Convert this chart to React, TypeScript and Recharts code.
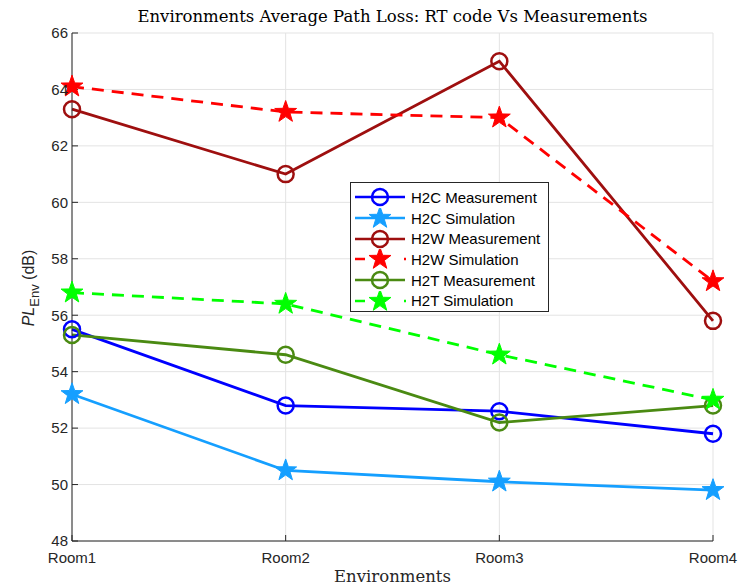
import { LineChart, Line, XAxis, YAxis, CartesianGrid } from 'recharts';

const rooms = ['Room1', 'Room2', 'Room3', 'Room4'];
const h2cMeasurement = [55.5, 52.8, 52.6, 51.8];
const h2cSimulation = [53.2, 50.5, 50.1, 49.8];
const h2wMeasurement = [63.3, 61.0, 65.0, 55.8];
const h2wSimulation = [64.1, 63.2, 63.0, 57.2];
const h2tMeasurement = [55.3, 54.6, 52.2, 52.8];
const h2tSimulation = [56.8, 56.4, 54.6, 53.0];
const yTicks = [48, 50, 52, 54, 56, 58, 60, 62, 64, 66];

const series = [
  { key: 'h2cM', name: 'H2C Measurement', values: h2cMeasurement, color: '#0000ff', marker: 'circle', dashed: false },
  { key: 'h2cS', name: 'H2C Simulation', values: h2cSimulation, color: '#159fff', marker: 'star', dashed: false },
  { key: 'h2wM', name: 'H2W Measurement', values: h2wMeasurement, color: '#9e0f0f', marker: 'circle', dashed: false },
  { key: 'h2wS', name: 'H2W Simulation', values: h2wSimulation, color: '#ff0000', marker: 'star', dashed: true },
  { key: 'h2tM', name: 'H2T Measurement', values: h2tMeasurement, color: '#4a8a12', marker: 'circle', dashed: false },
  { key: 'h2tS', name: 'H2T Simulation', values: h2tSimulation, color: '#00ff00', marker: 'star', dashed: true },
];

const data = rooms.map((room, i) => {
  const row: any = { x: i, room };
  series.forEach(s => { row[s.key] = s.values[i]; });
  return row;
});

const AXIS = '#262626';
const SANS = 'Arial, "Liberation Sans", Helvetica, sans-serif';
const SERIF = '"DejaVu Serif", serif';

function starPoints(cx: number, cy: number, R: number, r: number) {
  const pts: string[] = [];
  for (let k = 0; k < 10; k++) {
    const rad = k % 2 === 0 ? R : r;
    const a = -Math.PI / 2 + (k * Math.PI) / 5;
    pts.push(`${cx + rad * Math.cos(a)},${cy + rad * Math.sin(a)}`);
  }
  return pts.join(' ');
}

function Marker({ cx, cy, color, marker }: any) {
  if (marker === 'star') {
    return <polygon points={starPoints(cx, cy, 11.5, 4.6)} fill={color} stroke={color} strokeWidth={1} />;
  }
  return <circle cx={cx} cy={cy} r={8} fill="none" stroke={color} strokeWidth={2.5} />;
}

function makeDot(color: string, marker: string) {
  return (props: any) => {
    const { cx, cy, index } = props;
    if (cx == null || cy == null) return <g key={index} />;
    return <g key={index}><Marker cx={cx} cy={cy} color={color} marker={marker} /></g>;
  };
}

function LegendBox() {
  return (
    <div style={{
      position: 'absolute', left: 350, top: 182, width: 199, height: 130,
      background: '#fff', border: '1px solid #262626', boxSizing: 'border-box',
      padding: '4px 0 0 0',
    }}>
      {series.map(s => (
        <div key={s.key} style={{ display: 'flex', alignItems: 'center', height: 20.7 }}>
          <svg width={58} height={20} style={{ flex: 'none' }}>
            {s.dashed ? (
              <g>
                <line x1={4} y1={10} x2={14} y2={10} stroke={s.color} strokeWidth={2.5} />
                <line x1={53} y1={10} x2={55} y2={10} stroke={s.color} strokeWidth={2.5} />
              </g>
            ) : (
              <line x1={4} y1={10} x2={54} y2={10} stroke={s.color} strokeWidth={2.5} />
            )}
            <Marker cx={29} cy={10} color={s.color} marker={s.marker} />
          </svg>
          <span style={{ fontFamily: SANS, fontSize: 15, color: '#000', marginLeft: 2, whiteSpace: 'nowrap' }}>{s.name}</span>
        </div>
      ))}
    </div>
  );
}

export default function App() {
  return (
    <div style={{ position: 'absolute', left: 0, top: 0, width: 739, height: 588, background: '#fff' }}>
      <LineChart width={739} height={588} data={data} margin={{ top: 33, right: 26, bottom: 17, left: 22 }}>
        <CartesianGrid stroke="#e3e3e3" strokeWidth={1} />
        <XAxis
          dataKey="x"
          type="number"
          domain={[0, 3]}
          ticks={[0, 1, 2, 3]}
          tickFormatter={(v: number) => rooms[v]}
          height={30}
          stroke={AXIS}
          tickSize={-6}
          tickMargin={17}
          tick={{ fill: AXIS, fontSize: 15, fontFamily: SANS }}
          interval={0}
        />
        <XAxis
          xAxisId="top"
          orientation="top"
          type="number"
          domain={[0, 3]}
          ticks={[0, 1, 2, 3]}
          height={0}
          tick={false}
          stroke={AXIS}
          tickSize={-6}
        />
        <YAxis
          domain={[48, 66]}
          ticks={yTicks}
          width={50}
          stroke={AXIS}
          tickSize={-6}
          tickMargin={10}
          tick={{ fill: AXIS, fontSize: 15, fontFamily: SANS }}
          interval={0}
        />
        <YAxis
          yAxisId="right"
          orientation="right"
          domain={[48, 66]}
          ticks={yTicks}
          width={0}
          tick={false}
          stroke={AXIS}
          tickSize={-6}
        />
        {series.map(s => (
          <Line
            key={s.key}
            dataKey={s.key}
            name={s.name}
            type="linear"
            stroke={s.color}
            strokeWidth={2.8}
            strokeDasharray={s.dashed ? '12 8' : undefined}
            dot={makeDot(s.color, s.marker)}
            activeDot={false}
            isAnimationActive={false}
          />
        ))}
      </LineChart>
      <div style={{ position: 'absolute', left: 72, width: 641, top: 7, textAlign: 'center', fontFamily: SERIF, fontSize: 16.5, color: '#000', whiteSpace: 'nowrap' }}>
        Environments Average Path Loss: RT code Vs Measurements
      </div>
      <div style={{ position: 'absolute', left: 72, width: 641, top: 567, textAlign: 'center', fontFamily: SERIF, fontSize: 16.5, color: '#262626' }}>
        Environments
      </div>
      <div style={{
        position: 'absolute', left: 31, top: 288, transform: 'translate(-50%, -50%) rotate(-90deg)',
        fontFamily: SANS, fontSize: 16, color: AXIS, whiteSpace: 'nowrap',
      }}>
        <i>PL</i><sub style={{ fontSize: 13 }}>Env</sub> (dB)
      </div>
      <LegendBox />
    </div>
  );
}
